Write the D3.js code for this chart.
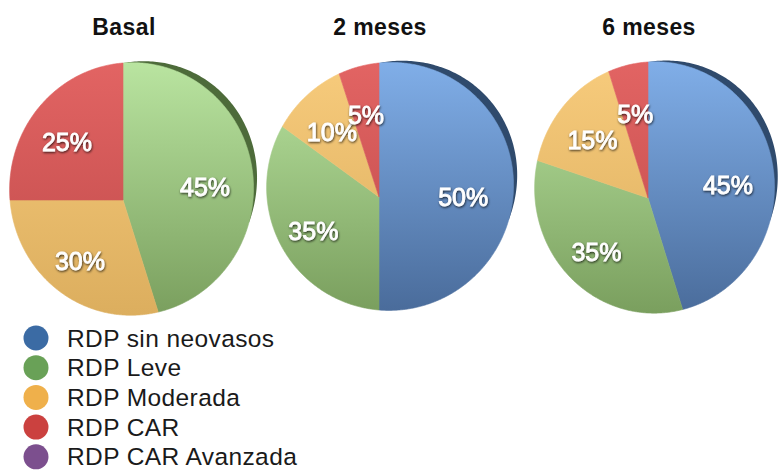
<!DOCTYPE html>
<html>
<head>
<meta charset="utf-8">
<script src="https://cdn.jsdelivr.net/npm/d3@7/dist/d3.min.js"></script>
<style>
  html, body { margin: 0; padding: 0; background: #ffffff; }
  svg { display: block; }
</style>
</head>
<body>
<svg id="chart" width="779" height="471"></svg>
<script>
// Categories of diabetic retinopathy (legend order)
const categories = ["RDP sin neovasos", "RDP Leve", "RDP Moderada", "RDP CAR", "RDP CAR Avanzada"];
// Time points, one pie each
const periods = ["Basal", "2 meses", "6 meses"];
// Percent of eyes in each category
const basalValues = [0, 45, 30, 25, 0];
const meses2Values = [50, 35, 10, 5, 0];
const meses6Values = [45, 35, 15, 5, 0];
const seriesValues = [basalValues, meses2Values, meses6Values];

// Legend swatch colours
const legendColors = ["#3b6ba4", "#69a157", "#efb04b", "#cb413f", "#7c4f8e"];
// Slice face shading: light at the top, darker at the bottom
const faceTop = ["#80aee8", "#b9e4a0", "#f7cb7c", "#e26463", "#9a70ac"];
const faceBottom = ["#4a6c9b", "#7a9f5e", "#dcae5e", "#bf4a4a", "#6b4a7c"];
// Side rim colour, taken from the slice that starts at twelve o'clock
const rimColors = ["#2f4a6c", "#4d6b3a", "#a07a30", "#8a3030", "#4c3058"];

// Tilted disc geometry for each pie: centre and projected half-extents
const pieFrames = [
  { cx: 123, cy: 200, up: 137, down: 115, left: 113, right: 130 },
  { cx: 379, cy: 197, up: 134, down: 113, left: 112, right: 134 },
  { cx: 648, cy: 198, up: 136, down: 115, left: 113, right: 126 }
];

const svg = d3.select("#chart");
const defs = svg.append("defs");

const shadow = defs.append("filter").attr("id", "txtShadow")
  .attr("x", "-20%").attr("y", "-30%").attr("width", "140%").attr("height", "160%");
shadow.append("feDropShadow").attr("dx", 0.6).attr("dy", 1.2)
  .attr("stdDeviation", 1.1).attr("flood-color", "#000").attr("flood-opacity", 0.75);

// Perspective mapping of the unit disc (u right, v down) onto the page
function projector(f) {
  const h = (f.up - f.down) / (f.up + f.down);
  const e = f.up * (1 - h);
  const g = (f.left - f.right) / (f.left + f.right);
  const a = f.left * (1 - g);
  return (u, v) => {
    const w = g * u + h * v + 1;
    return [f.cx + a * u / w, f.cy + e * v / w];
  };
}

const pie = d3.pie().sort(null).value(d => d).startAngle(0).endAngle(2 * Math.PI);
const line = d3.line().curve(d3.curveLinearClosed);
const step = Math.PI / 360;

function polar(proj, angle, r) {
  return proj(r * Math.sin(angle), -r * Math.cos(angle));
}

function arcPoints(proj, a0, a1, r) {
  const n = Math.max(2, Math.ceil((a1 - a0) / step));
  return d3.range(n + 1).map(i => polar(proj, a0 + (a1 - a0) * i / n, r));
}

periods.forEach((name, pi) => {
  const f = pieFrames[pi];
  const proj = projector(f);
  const arcs = pie(seriesValues[pi]);
  const g = svg.append("g").attr("class", "pie");

  // gradients for this pie
  categories.forEach((c, ci) => {
    const lg = defs.append("linearGradient")
      .attr("id", `grad-${pi}-${ci}`)
      .attr("gradientUnits", "userSpaceOnUse")
      .attr("x1", 0).attr("x2", 0)
      .attr("y1", f.cy - f.up).attr("y2", f.cy + f.down);
    lg.append("stop").attr("offset", "0%").attr("stop-color", faceTop[ci]);
    lg.append("stop").attr("offset", "100%").attr("stop-color", faceBottom[ci]);
  });

  // side rim visible along the upper right of the disc
  const first = arcs.find(d => d.endAngle > d.startAngle);
  const rimEnd = Math.min(first.endAngle, 100 * Math.PI / 180);
  const nR = 120;
  const outer = d3.range(nR + 1).map(i => {
    const t = i / nR;
    const ang = rimEnd * t;
    return polar(proj, ang, 1 + 0.048 * Math.sin(Math.PI * t));
  });
  const inner = arcPoints(proj, 0, rimEnd, 0.995).reverse();
  g.append("path")
    .attr("d", line(outer.concat(inner)))
    .attr("fill", rimColors[first.index]);

  // slice faces
  g.selectAll("path.slice")
    .data(arcs.filter(d => d.endAngle > d.startAngle))
    .join("path")
    .attr("class", "slice")
    .attr("d", d => line([proj(0, 0)].concat(arcPoints(proj, d.startAngle, d.endAngle, 1))))
    .attr("fill", d => `url(#grad-${pi}-${d.index})`)
    .attr("stroke", d => `url(#grad-${pi}-${d.index})`)
    .attr("stroke-width", 0.6);

  // percentage labels
  g.selectAll("text.pct")
    .data(arcs.filter(d => d.data > 0))
    .join("text")
    .attr("class", "pct")
    .attr("x", d => polar(proj, (d.startAngle + d.endAngle) / 2, 0.65)[0])
    .attr("y", d => polar(proj, (d.startAngle + d.endAngle) / 2, 0.65)[1])
    .attr("dy", "0.36em")
    .attr("text-anchor", "middle")
    .attr("font-family", "'Liberation Sans', Arial, sans-serif")
    .attr("font-size", 25)
    .attr("fill", "#ffffff")
    .attr("stroke", "#ffffff")
    .attr("stroke-width", 0.8)
    .attr("filter", "url(#txtShadow)")
    .text(d => d.data + "%");

  // title
  svg.append("text")
    .attr("x", f.cx + 1)
    .attr("y", 35)
    .attr("text-anchor", "middle")
    .attr("font-family", "'Liberation Sans', Arial, sans-serif")
    .attr("font-weight", "bold")
    .attr("font-size", 23)
    .attr("letter-spacing", 0.4)
    .attr("fill", "#111")
    .text(name);
});

// legend
const legend = svg.append("g").attr("class", "legend");
const rows = legend.selectAll("g")
  .data(categories)
  .join("g")
  .attr("transform", (d, i) => `translate(36, ${338 + i * 29.7})`);
rows.append("circle").attr("r", 12.5).attr("fill", (d, i) => legendColors[i]);
rows.append("text")
  .attr("x", 31)
  .attr("y", 8.5)
  .attr("font-family", "'Liberation Sans', Arial, sans-serif")
  .attr("font-size", 24.5)
  .attr("letter-spacing", 0.4)
  .attr("fill", "#1a1a1a")
  .text(d => d);
</script>
</body>
</html>
